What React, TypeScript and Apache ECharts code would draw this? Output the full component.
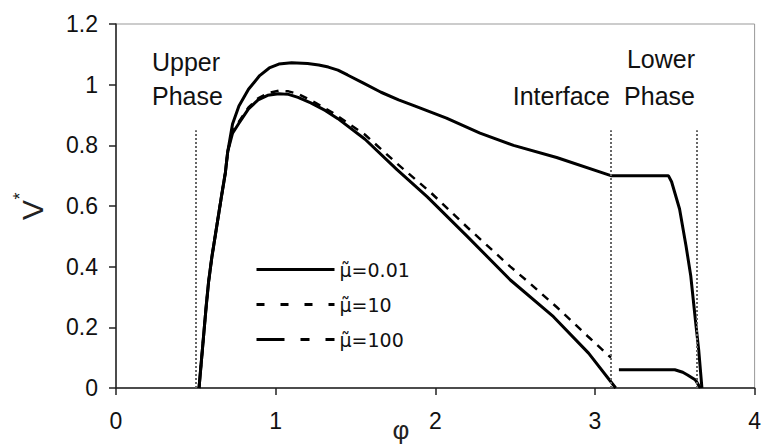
import React, { useEffect, useRef } from "react";
import * as echarts from "echarts";

// x-axis ticks (φ) and y-axis ticks (V*)
const xTicks = [0, 1, 2, 3, 4];
const yTicks = [0, 0.2, 0.4, 0.6, 0.8, 1, 1.2];

// common steep rise shared by all curves
const risePhi = [0.52, 0.54, 0.565, 0.58, 0.6, 0.63, 0.66, 0.685, 0.7];
const riseV = [0, 0.12, 0.27, 0.35, 0.43, 0.53, 0.63, 0.71, 0.78];

// μ=0.01
const phiA = [0.73, 0.77, 0.83, 0.9, 0.96, 1.02, 1.1, 1.2, 1.27, 1.33, 1.39, 1.45, 1.55, 1.66, 1.77, 1.87, 2.07, 2.28, 2.49, 2.76, 3.1, 3.46, 3.48, 3.53, 3.57, 3.6, 3.63, 3.65, 3.67];
const vA = [0.87, 0.93, 0.985, 1.03, 1.055, 1.068, 1.072, 1.07, 1.065, 1.058, 1.048, 1.032, 1.005, 0.975, 0.95, 0.93, 0.89, 0.84, 0.8, 0.76, 0.7, 0.7, 0.68, 0.59, 0.47, 0.37, 0.22, 0.125, 0];

// μ=10
const phiB = [0.73, 0.77, 0.83, 0.89, 0.95, 1.02, 1.08, 1.14, 1.25, 1.35, 1.56, 1.76, 1.97, 2.2, 2.47, 2.59, 2.76, 2.96, 3.1];
const vB = [0.845, 0.878, 0.925, 0.955, 0.972, 0.98, 0.978, 0.97, 0.94, 0.91, 0.835, 0.74, 0.645, 0.53, 0.4, 0.346, 0.267, 0.168, 0.1];

// μ=100
const phiC = [0.73, 0.77, 0.83, 0.89, 0.95, 1.02, 1.08, 1.14, 1.22, 1.31, 1.39, 1.56, 1.76, 1.95, 2.2, 2.47, 2.74, 2.96, 3.13];
const vC = [0.84, 0.873, 0.92, 0.95, 0.965, 0.97, 0.968, 0.958, 0.94, 0.915, 0.888, 0.82, 0.72, 0.63, 0.5, 0.356, 0.235, 0.115, 0];
// lower phase segment
const phiLow = [3.15, 3.3, 3.5, 3.55, 3.58, 3.63, 3.66];
const vLow = [0.06, 0.06, 0.06, 0.052, 0.043, 0.026, 0];

// phase boundaries (dotted lines)
const boundaries = [0.5, 3.1, 3.64];
const boundaryTop = 0.85;

const seriesNames = ["\u03BC\u0303=0.01", "\u03BC\u0303=10", "\u03BC\u0303=100"];

const zip = (xs: number[], ys: number[]) => xs.map((x, i) => [x, ys[i]]);
const FONT = "Liberation Sans, Arial, sans-serif";

export default function App() {
  const ref = useRef<HTMLDivElement>(null);
  useEffect(() => {
    const chart = echarts.init(ref.current!, null, { renderer: "svg" });
    const rise = zip(risePhi, riseV);
    const hidden = { color: "rgba(0,0,0,0)", borderWidth: 0, opacity: 0 };
    chart.setOption({
      animation: false,
      backgroundColor: "#fff",
      grid: {
        left: 116,
        right: 4,
        top: 24,
        bottom: 59,
        show: true,
        borderColor: "#999",
        borderWidth: 1,
      },
      xAxis: {
        type: "value",
        min: xTicks[0],
        max: xTicks[xTicks.length - 1],
        interval: 1,
        splitLine: { show: false },
        axisLine: { show: true, lineStyle: { color: "#222", width: 1.5 } },
        axisTick: { show: true, inside: false, length: 7, lineStyle: { color: "#222", width: 1.5 } },
        axisLabel: { color: "#111", fontSize: 23, fontFamily: FONT, margin: 21 },
      },
      yAxis: {
        type: "value",
        min: yTicks[0],
        max: yTicks[yTicks.length - 1],
        interval: 0.2,
        splitLine: { show: false },
        axisLine: { show: true, lineStyle: { color: "#222", width: 1.5 } },
        axisTick: { show: true, inside: false, length: 7, lineStyle: { color: "#222", width: 1.5 } },
        axisLabel: { color: "#111", fontSize: 23, fontFamily: FONT, margin: 18 },
      },
      legend: {
        orient: "vertical",
        left: 250,
        top: 255,
        itemWidth: 78,
        itemHeight: 14,
        itemGap: 16,
        itemStyle: hidden,
        textStyle: { color: "#111", fontSize: 19, fontFamily: "DejaVu Sans, sans-serif" },
        data: [
          { name: seriesNames[0], itemStyle: hidden, lineStyle: { type: "solid", width: 3, color: "#000" } },
          { name: seriesNames[1], itemStyle: hidden, lineStyle: { type: [8, 16], width: 3, color: "#000" } },
          { name: seriesNames[2], itemStyle: hidden, lineStyle: { type: [28, 16, 9, 16], width: 3, color: "#000" } },
        ],
      },
      series: [
        {
          name: seriesNames[0],
          type: "line",
          symbol: "none",
          data: [...rise, ...zip(phiA, vA)],
          lineStyle: { color: "#000", width: 3 },
          itemStyle: { color: "#000" },
          markLine: {
            silent: true,
            symbol: ["none", "none"],
            label: { show: false },
            lineStyle: { type: "dotted", color: "#666", width: 2 },
            data: boundaries.map((b) => [{ coord: [b, 0] }, { coord: [b, boundaryTop] }]),
          },
        },
        {
          name: seriesNames[1],
          type: "line",
          symbol: "none",
          data: [...rise, ...zip(phiB, vB)],
          lineStyle: { color: "#000", width: 2.5, type: [8, 7] },
          itemStyle: { color: "#000" },
        },
        {
          name: seriesNames[2],
          type: "line",
          symbol: "none",
          connectNulls: false,
          data: [...rise, ...zip(phiC, vC), [3.14, null], ...zip(phiLow, vLow)],
          lineStyle: { color: "#000", width: 3 },
          itemStyle: { color: "#000" },
        },
      ],
      graphic: [
        { type: "text", x: 152, y: 49, style: { text: "Upper", fontSize: 25, fontFamily: FONT, fill: "#111", textVerticalAlign: "top" } },
        { type: "text", x: 152, y: 83, style: { text: "Phase", fontSize: 25, fontFamily: FONT, fill: "#111", textVerticalAlign: "top" } },
        { type: "text", x: 695, y: 46, style: { text: "Lower", fontSize: 25, fontFamily: FONT, fill: "#111", textAlign: "right", textVerticalAlign: "top" } },
        { type: "text", x: 695, y: 83, style: { text: "Phase", fontSize: 25, fontFamily: FONT, fill: "#111", textAlign: "right", textVerticalAlign: "top" } },
        { type: "text", x: 610, y: 83, style: { text: "Interface", fontSize: 25, fontFamily: FONT, fill: "#111", textAlign: "right", textVerticalAlign: "top" } },
        { type: "text", x: 32, y: 210, rotation: Math.PI / 2, style: { text: "V", fontSize: 30, fontFamily: FONT, fill: "#222", textAlign: "center", textVerticalAlign: "middle" } },
        { type: "text", x: 20, y: 196, rotation: Math.PI / 2, style: { text: "*", fontSize: 18, fontFamily: FONT, fill: "#222", textAlign: "center", textVerticalAlign: "middle" } },
        { type: "text", x: 401, y: 417, style: { text: "\u03C6", fontSize: 26, fontFamily: FONT, fill: "#222", textAlign: "center", textVerticalAlign: "top" } },
      ],
    });
    return () => chart.dispose();
  }, []);
  return (
    <div
      ref={ref}
      style={{ position: "absolute", left: 0, top: 0, width: 764, height: 447, background: "#fff" }}
    />
  );
}
